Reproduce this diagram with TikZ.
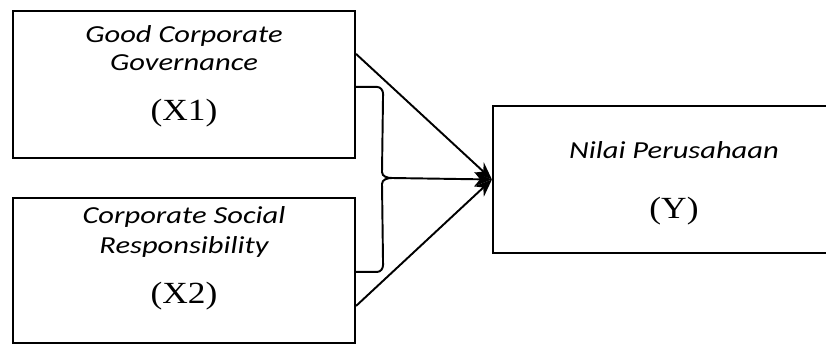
\documentclass[tikz,border=0pt]{standalone}
\usepackage{fontspec}
\usetikzlibrary{arrows.meta}
\newfontfamily\sansit[FakeStretch=1.25]{Carlito}
\newfontfamily\serx[FakeStretch=1.15]{Liberation Serif}

\begin{document}
\begin{tikzpicture}[
  varbox/.style={draw, line width=1.2pt, minimum width=6.84cm, inner sep=0pt},
  nm/.style={anchor=base, font=\sansit\itshape\fontsize{13.9}{15}\selectfont},
  sym/.style={anchor=base, font=\serx\fontsize{17.5}{19}\selectfont},
  arr/.style={line width=1.1pt, -{Stealth[length=10pt,width=8pt]}}
]
\useasboundingbox (0,0) rectangle (16.52,-6.9);

% Variables X
\node[varbox, minimum height=2.94cm] (x1) at (3.68,-1.69) {};
\node[nm] (x1a) at ([yshift=-0.65cm]x1.north) {Good Corporate};
\node[nm] (x1b) at ([yshift=-1.22cm]x1.north) {Governance};
\node[sym] (x1c) at ([yshift=-2.22cm]x1.north) {(X1)};

\node[varbox, minimum height=2.9cm] (x2) at (3.68,-5.41) {};
\node[nm] (x2a) at ([yshift=-0.54cm]x2.north) {Corporate Social};
\node[nm] (x2b) at ([yshift=-1.14cm]x2.north) {Responsibility};
\node[sym] (x2c) at ([yshift=-2.14cm]x2.north) {(X2)};

% Variable Y
\node[varbox, minimum width=7.24cm, minimum height=2.94cm] (y) at (13.48,-3.59) {};
\node[nm] (ya) at ([yshift=-1.08cm]y.north) {Nilai Perusahaan};
\node[sym] (yb) at ([yshift=-2.28cm]y.north) {(Y)};

% bracket
\coordinate (btop) at ([yshift=-1.54cm]x1.north east);
\coordinate (bbot) at ([yshift=-1.5cm]x2.north east);
\coordinate (tip) at (7.84,-3.56);
\draw[line width=1.1pt] (btop) -- ++(0.42,0) to[out=0,in=90] ++(0.12,-0.14)
  -- (7.64,-3.44) to[out=-90,in=180] (tip);
\draw[line width=1.1pt] (bbot) -- ++(0.42,0) to[out=0,in=-90] ++(0.12,0.14)
  -- (7.64,-3.68) to[out=90,in=180] (tip);

% arrows
\draw[arr] ([yshift=-0.88cm]x1.north east) -- (y.west);
\draw[arr] (tip) -- (y.west);
\draw[arr] ([yshift=-2.18cm]x2.north east) -- (y.west);

\end{tikzpicture}
\end{document}
